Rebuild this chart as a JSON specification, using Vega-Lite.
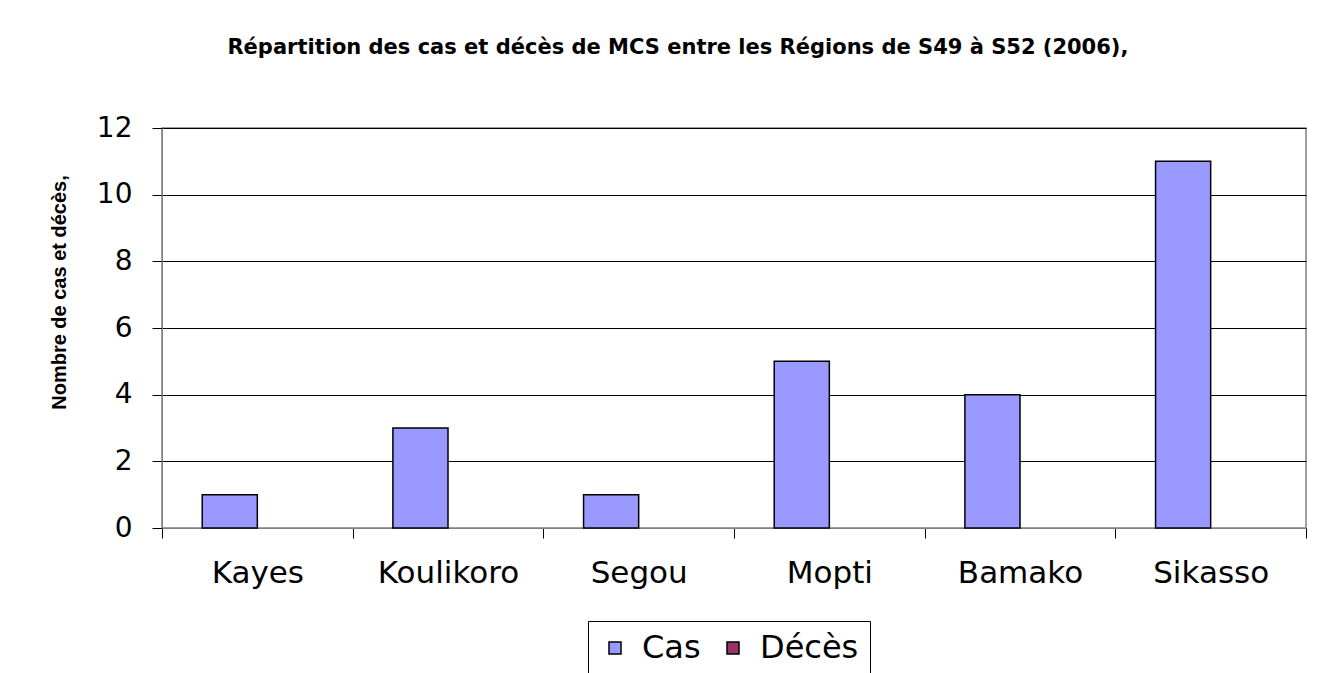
{
  "$schema": "https://vega.github.io/schema/vega-lite/v6.json",
  "width": 1144,
  "height": 400,
  "autosize": {"type": "none"},
  "padding": {"left": 162, "top": 128, "right": 12, "bottom": 145},
  "background": "white",
  "title": {
    "text": "Répartition des cas et décès de MCS entre les Régions de S49 à S52 (2006),",
    "font": "DejaVu Sans",
    "fontSize": 21,
    "fontWeight": "bold",
    "color": "black",
    "anchor": "middle",
    "frame": "bounds",
    "offset": 56
  },
  "data": {
    "values": [
      {"region": "Kayes", "serie": "Cas", "valeur": 1},
      {"region": "Kayes", "serie": "Décès", "valeur": 0},
      {"region": "Koulikoro", "serie": "Cas", "valeur": 3},
      {"region": "Koulikoro", "serie": "Décès", "valeur": 0},
      {"region": "Segou", "serie": "Cas", "valeur": 1},
      {"region": "Segou", "serie": "Décès", "valeur": 0},
      {"region": "Mopti", "serie": "Cas", "valeur": 5},
      {"region": "Mopti", "serie": "Décès", "valeur": 0},
      {"region": "Bamako", "serie": "Cas", "valeur": 4},
      {"region": "Bamako", "serie": "Décès", "valeur": 0},
      {"region": "Sikasso", "serie": "Cas", "valeur": 11},
      {"region": "Sikasso", "serie": "Décès", "valeur": 0}
    ]
  },
  "transform": [{"filter": "datum.valeur > 0"}],
  "mark": {"type": "bar", "stroke": "black", "strokeWidth": 1.5},
  "encoding": {
    "x": {
      "field": "region",
      "type": "nominal",
      "sort": null,
      "scale": {"domain": ["Kayes", "Koulikoro", "Segou", "Mopti", "Bamako", "Sikasso"], "paddingInner": 0, "paddingOuter": 0},
      "axis": {
        "title": null,
        "labelAngle": 0,
        "labelFont": "DejaVu Sans",
        "labelFontSize": 31,
        "labelColor": "black",
        "labelPadding": 20,
        "tickSize": 10,
        "tickColor": "black",
        "tickBand": "extent",
        "domainColor": "#808080",
        "grid": false
      }
    },
    "xOffset": {
      "field": "serie",
      "type": "nominal",
      "scale": {"domain": ["Cas", "Décès"], "paddingInner": 0, "paddingOuter": 0.73}
    },
    "y": {
      "field": "valeur",
      "type": "quantitative",
      "scale": {"domain": [0, 12], "nice": false},
      "axis": {
        "values": [0, 2, 4, 6, 8, 10, 12],
        "grid": true,
        "gridColor": "black",
        "gridOpacity": 1,
        "tickSize": 10,
        "tickColor": "black",
        "domainColor": "#808080",
        "labelFont": "DejaVu Sans",
        "labelFontSize": 28,
        "labelColor": "black",
        "labelPadding": 20,
        "title": "Nombre de cas et décès,",
        "titleFont": "Liberation Sans",
        "titleFontSize": 20,
        "titleFontWeight": "bold",
        "titleColor": "black",
        "titlePadding": 27,
        "titleY": 164
      }
    },
    "color": {
      "field": "serie",
      "type": "nominal",
      "scale": {"domain": ["Cas", "Décès"], "range": ["#9999FF", "#993366"]},
      "legend": {
        "orient": "none",
        "legendX": 426,
        "legendY": 493,
        "direction": "horizontal",
        "title": null,
        "labelFont": "DejaVu Sans",
        "labelFontSize": 32,
        "labelColor": "black",
        "labelOffset": 11,
        "symbolType": "square",
        "symbolSize": 144,
        "symbolStrokeColor": "black",
        "symbolStrokeWidth": 1.5,
        "strokeColor": "black",
        "padding": 11,
        "columnPadding": 16
      }
    }
  },
  "config": {
    "view": {"stroke": "#808080", "strokeWidth": 1.5}
  }
}
